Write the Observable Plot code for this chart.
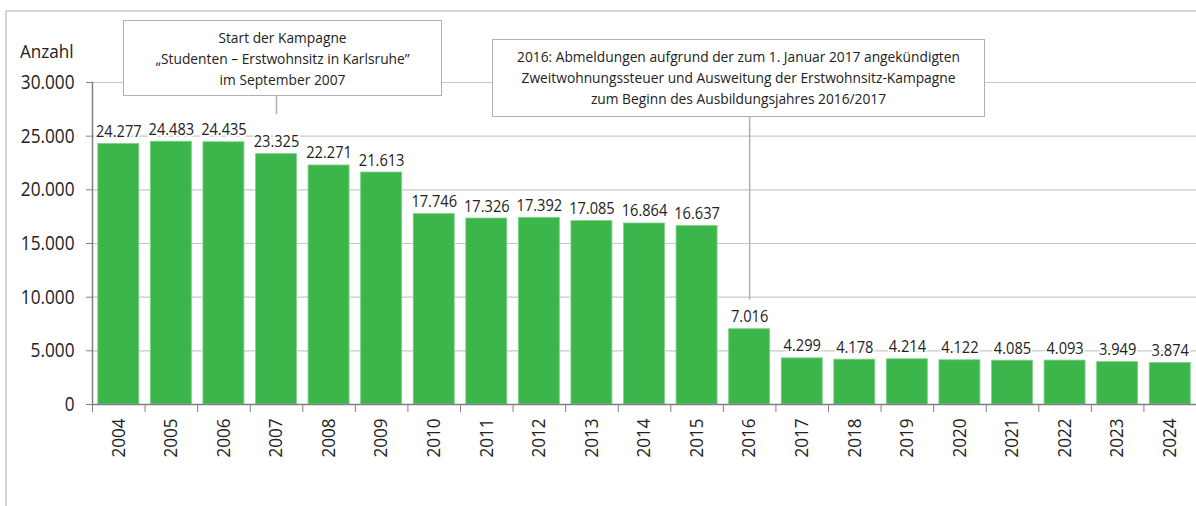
<!DOCTYPE html>
<html>
<head>
<meta charset="utf-8">
<script src="https://cdn.jsdelivr.net/npm/d3@7"></script>
<script src="https://cdn.jsdelivr.net/npm/@observablehq/plot@0.6"></script>
<style>
  html, body { margin: 0; padding: 0; background: #fff; }
  body { font-family: "Open Sans", "DejaVu Sans Condensed", sans-serif; color: #222; }
  #wrap { position: relative; width: 1196px; height: 506px; overflow: hidden; }
  #frame { position: absolute; left: 5px; top: 10px; right: -10px; bottom: -10px; border-top: 2px solid #d4d4d4; border-left: 2px solid #d4d4d4; }
  #chart { position: absolute; left: 0; top: 0; }
  .note { position: absolute; background: #fff; border: 1.5px solid #b0b0b0; box-sizing: border-box;
          text-align: center; font-size: 14.5px; line-height: 21px; color: #222; padding-top: 6px; }
  .note span { display: block; white-space: nowrap; transform: scaleX(0.95); transform-origin: 50% 50%; }
  #ylabel { position: absolute; left: 20px; top: 38px; font-size: 19px; color: #222; transform: scaleX(0.9); transform-origin: 0 0; }
</style>
</head>
<body>
<div id="wrap">
  <div id="frame"></div>
  <div id="chart"></div>
  <div id="ylabel">Anzahl</div>
</div>
<script>
const years = ["2004","2005","2006","2007","2008","2009","2010","2011","2012","2013","2014","2015","2016","2017","2018","2019","2020","2021","2022","2023","2024"];
const values = [24277, 24483, 24435, 23325, 22271, 21613, 17746, 17326, 17392, 17085, 16864, 16637, 7016, 4299, 4178, 4214, 4122, 4085, 4093, 3949, 3874];
const yTicks = [0, 5000, 10000, 15000, 20000, 25000, 30000];

const noteYears = ["2007", "2016"];
const noteLines = [
  ["Start der Kampagne", "„Studenten – Erstwohnsitz in Karlsruhe”", "im September 2007"],
  ["2016: Abmeldungen aufgrund der zum 1. Januar 2017 angekündigten", "Zweitwohnungssteuer und Ausweitung der Erstwohnsitz-Kampagne", "zum Beginn des Ausbildungsjahres 2016/2017"]
];
const noteLineBottom = [27000, 9700];
const noteLineTop = [30000, 30000];

const data = years.map((y, i) => ({year: y, value: values[i]}));
const notes = noteYears.map((y, i) => ({year: y, y1: noteLineBottom[i], y2: noteLineTop[i]}));

const fmt = d3.formatLocale({decimal: ",", thousands: ".", grouping: [3], currency: ["", "€"]}).format(",d");

const W = 1196, H = 506, ML = 92, MR = 0, MT = 82, MB = 102;
const step = (W - ML - MR) / years.length;
const font = '"Open Sans", "DejaVu Sans Condensed", sans-serif';

const plot = Plot.plot({
  width: W, height: H,
  marginLeft: ML, marginRight: MR, marginTop: MT, marginBottom: MB,
  style: {fontFamily: font, color: "#222", background: "transparent", overflow: "visible"},
  x: {domain: years, paddingInner: 0.22, paddingOuter: 0.11, round: false, label: null},
  y: {domain: [0, 30000], label: null},
  marks: [
    Plot.gridY(yTicks, {stroke: "#c8c8c8", strokeOpacity: 1, strokeWidth: 1.2}),
    Plot.barY(data, {x: "year", y: "value", fill: "#3cb54b", stroke: "#7fd48a", strokeWidth: 0.8}),
    Plot.ruleX(notes, {x: "year", y1: "y1", y2: "y2", stroke: "#b0b0b0", strokeWidth: 1.5}),
    Plot.text(data, {x: "year", y: "value", text: d => fmt(d.value), dy: -7, lineAnchor: "bottom",
      fontSize: 17, fill: "#222", stroke: "white", strokeWidth: 4}),
    Plot.ruleY([0], {stroke: "#808080", strokeWidth: 1.5}),
    Plot.frame({anchor: "left", stroke: "#808080", strokeWidth: 1.5}),
    Plot.axisY(yTicks, {tickSize: 6, tickPadding: 12, tickFormat: fmt, fontSize: 20, stroke: "#808080", fill: "#222", label: null}),
    Plot.axisX({tickSize: 8, tickFormat: () => "", dx: -step / 2, stroke: "#808080", label: null}),
    Plot.axisX({tickSize: 0, tickPadding: 14, tickRotate: -90, fontSize: 18, fill: "#222", label: null})
  ]
});
document.getElementById("chart").appendChild(plot);

// condense SVG text slightly to mimic the condensed typeface of the original
function condense(sel, k) {
  plot.querySelectorAll(sel).forEach(t => {
    const len = t.getComputedTextLength();
    if (len > 0) { t.setAttribute("textLength", (len * k).toFixed(1)); t.setAttribute("lengthAdjust", "spacingAndGlyphs"); }
  });
}
condense('g[aria-label="text"] text', 0.86);
condense('g[aria-label="y-axis tick label"] text', 0.86);
condense('g[aria-label="x-axis tick label"] text', 0.95);

const wrap = document.getElementById("wrap");
const boxes = [
  {left: 123, top: 20, width: 319, height: 76},
  {left: 492, top: 39, width: 493, height: 78}
];
boxes.forEach((b, i) => {
  const d = document.createElement("div");
  d.className = "note";
  d.style.left = b.left + "px"; d.style.top = b.top + "px";
  d.style.width = b.width + "px"; d.style.height = b.height + "px";
  noteLines[i].forEach(line => {
    const s = document.createElement("span");
    s.textContent = line;
    d.appendChild(s);
  });
  wrap.appendChild(d);
});
</script>
</body>
</html>
